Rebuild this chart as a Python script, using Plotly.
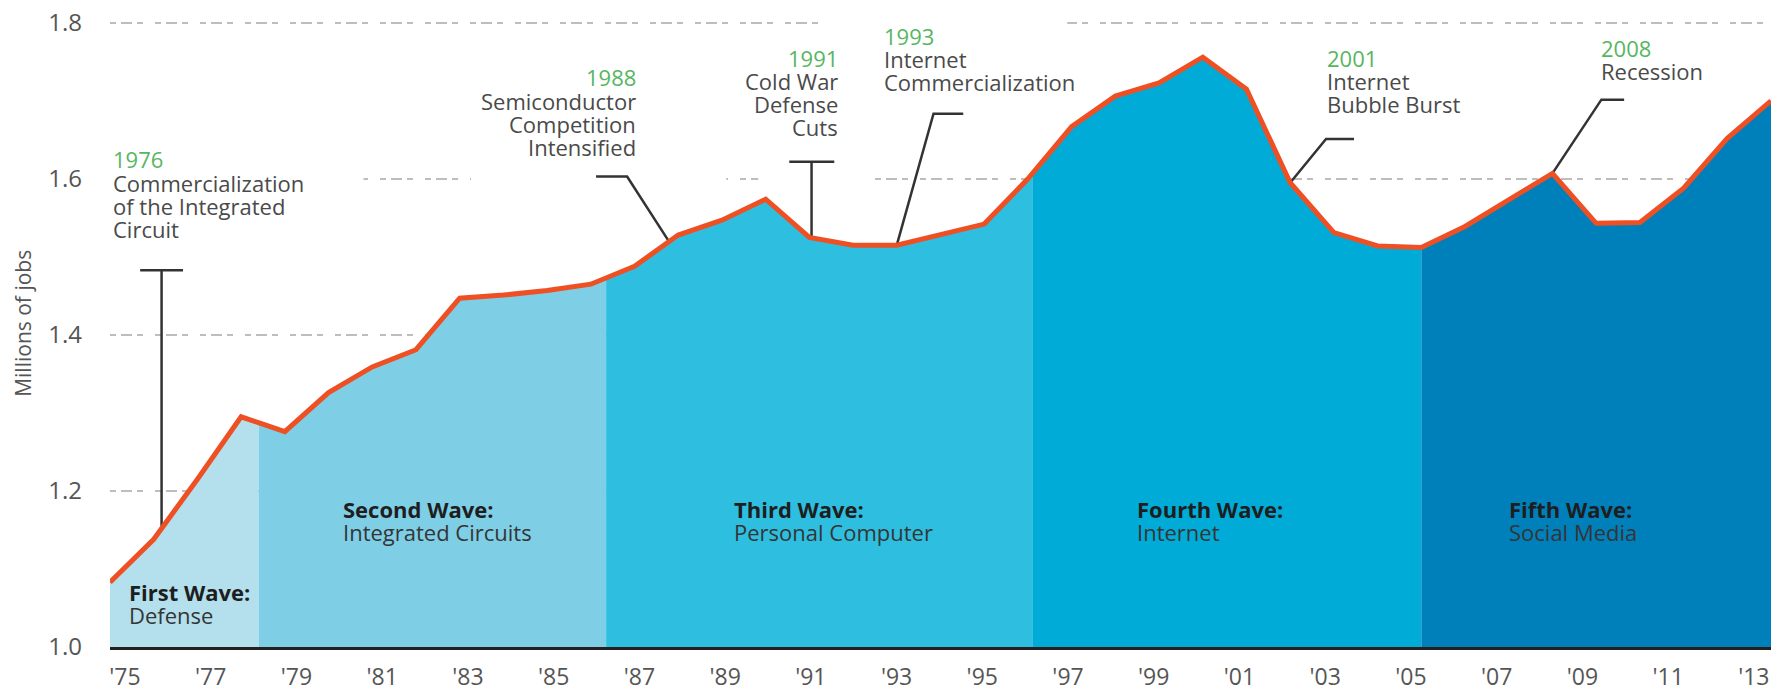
import numpy as np
import plotly.graph_objects as go

# ---- data -------------------------------------------------------------
years = list(range(1975, 2014))
jobs = [1.083, 1.138, 1.215, 1.295, 1.276, 1.326, 1.359, 1.381, 1.447, 1.451,
        1.457, 1.465, 1.488, 1.528, 1.547, 1.574, 1.525, 1.515, 1.515, 1.529,
        1.542, 1.600, 1.667, 1.706, 1.723, 1.756, 1.715, 1.595, 1.531, 1.514,
        1.512, 1.539, 1.573, 1.607, 1.543, 1.544, 1.588, 1.652, 1.700]

wave_starts = [1975, 1978.4, 1986.35, 1996.1, 2005]
wave_end = 2013
wave_names = ["First Wave:", "Second Wave:", "Third Wave:", "Fourth Wave:", "Fifth Wave:"]
wave_themes = ["Defense", "Integrated Circuits", "Personal Computer", "Internet", "Social Media"]

event_years = ["1976", "1988", "1991", "1993", "2001", "2008"]
event_texts = [
    ["Commercialization", "of the Integrated", "Circuit"],
    ["Semiconductor", "Competition", "Intensified"],
    ["Cold War", "Defense", "Cuts"],
    ["Internet", "Commercialization"],
    ["Internet", "Bubble Burst"],
    ["Recession"],
]
# where each leader line meets the curve
event_at = [1976.18, 1987.79, 1991.05, 1993.0, 2002.0, 2008.0]

tick_years = list(range(1975, 2014, 2))
tick_text = ["'" + str(y)[2:] for y in tick_years]
y_ticks = [1.0, 1.2, 1.4, 1.6, 1.8]

# ---- styling / layout -------------------------------------------------
WAVE_COLORS = ["#b3e0ec", "#7ecfe6", "#2ebfe0", "#00acd7", "#0080bb"]
LINE_COLOR = "#ee5024"
GREEN = "#56b65f"
GREY = "#4a4a4a"
FONT = "Open Sans"
FS = 22
LINE_STEP = 0.0297

wave_label_pos = [(1975.4, 1.071), (1980.28, 1.177), (1989.23, 1.177),
                  (1998.46, 1.177), (2006.96, 1.177)]
event_label_pos = [(1975.02, 1.625, "left"), (1987.07, 1.730, "right"),
                   (1991.7, 1.755, "right"), (1992.66, 1.783, "left"),
                   (2002.8, 1.755, "left"), (2009.07, 1.768, "left")]
# leader shapes: ("tee", bar_left, bar_right, top) or ("elbow", elbow_x, elbow_y, tail_x)
leaders = [("tee", 1975.69, 1976.67, 1.483), ("elbow", 1986.83, 1.603, 1986.12),
           ("tee", 1990.54, 1991.57, 1.622), ("elbow", 1993.84, 1.6835, 1994.52),
           ("elbow", 2002.82, 1.651, 2003.46), ("elbow", 2009.12, 1.7015, 2009.64)]
# white boxes that knock the dashed grid out behind the callouts
masks = [(1974.9, 1980.8, 1.56, 1.66), (1983.26, 1989.1, 1.58, 1.76),
         (1989.83, 1992.25, 1.58, 1.78), (1991.34, 1996.9, 1.77, 1.83)]

fig = go.Figure()

# wave bands under the curve
bounds = wave_starts + [wave_end]
for i, color in enumerate(WAVE_COLORS):
    x0, x1 = bounds[i], bounds[i + 1]
    xs = [x0] + [y for y in years if x0 < y < x1] + [x1]
    ys = list(np.interp(xs, years, jobs))
    fig.add_trace(go.Scatter(x=xs, y=ys, mode="none", fill="tozeroy",
                             fillcolor=color, hoverinfo="skip", showlegend=False))

# leader lines
lx, ly = [], []
for at, ld in zip(event_at, leaders):
    on_curve = float(np.interp(at, years, jobs))
    if ld[0] == "tee":
        _, left, right, top = ld
        lx += [left, right, None, at, at, None]
        ly += [top, top, None, top, on_curve, None]
    else:
        _, ex, ey, tail = ld
        lx += [tail, ex, at, None]
        ly += [ey, ey, on_curve, None]
fig.add_trace(go.Scatter(x=lx, y=ly, mode="lines", line=dict(color="#333333", width=2.5),
                         hoverinfo="skip", showlegend=False))

# employment line
fig.add_trace(go.Scatter(x=years, y=jobs, mode="lines",
                         line=dict(color=LINE_COLOR, width=5),
                         hoverinfo="skip", showlegend=False))

# carrier for the year labels (printed slightly tighter than the data grid)
fig.add_trace(go.Scatter(x=tick_years, y=[None] * len(tick_years), xaxis="x2",
                         mode="lines", hoverinfo="skip", showlegend=False))

for x0, x1, y0, y1 in masks:
    fig.add_shape(type="rect", x0=x0, x1=x1, y0=y0, y1=y1, xref="x", yref="y",
                  fillcolor="white", line_width=0, layer="between")

# wave labels
for (x, y), name, theme in zip(wave_label_pos, wave_names, wave_themes):
    fig.add_annotation(x=x, y=y, text="<b>" + name + "</b>", showarrow=False,
                       xanchor="left", yanchor="middle",
                       font=dict(family=FONT, size=FS, color="#1e1e1e"))
    fig.add_annotation(x=x, y=y - LINE_STEP, text=theme, showarrow=False,
                       xanchor="left", yanchor="middle",
                       font=dict(family=FONT, size=FS, color="#353535"))

# event callouts
for (x, y, align), yr, lines in zip(event_label_pos, event_years, event_texts):
    for k, txt in enumerate([yr] + lines):
        fig.add_annotation(x=x, y=y - k * LINE_STEP, text=txt, showarrow=False,
                           xanchor=align, yanchor="middle",
                           font=dict(family=FONT, size=FS, color=GREEN if k == 0 else GREY))

# y-axis title
fig.add_annotation(x=-0.052, xref="paper", y=1.415, yref="y", text="Millions of jobs",
                   textangle=-90, showarrow=False, xanchor="center", yanchor="middle",
                   font=dict(family=FONT, size=21, color="#555555"))

# the page body adds an 8px offset, so the figure is 8px smaller on each axis
fig.update_layout(
    width=1772, height=688,
    margin=dict(l=102, r=9, t=7, b=49),
    plot_bgcolor="white", paper_bgcolor="white",
    font=dict(family=FONT, size=FS, color=GREY),
    xaxis=dict(range=[1975, 2013], showticklabels=False, automargin=False,
               showgrid=False, zeroline=False, showline=True, linecolor="#231f20",
               linewidth=3, ticks=""),
    xaxis2=dict(overlaying="x", anchor="y", side="bottom", range=[1974.65, 2013.4],
                tickvals=tick_years, ticktext=tick_text, automargin=False,
                showgrid=False, zeroline=False, showline=False, ticks="",
                ticklabelstandoff=14, tickfont=dict(family=FONT, size=23, color="#555555")),
    yaxis=dict(range=[1.0, 1.81], tickvals=y_ticks, tickformat=".1f", automargin=False,
               showgrid=True, gridcolor="#bdbdbd", gridwidth=2, ticklabeloverflow="allow",
               griddash="6px,5px,11px,5px,6px,12px", zeroline=False, ticks="",
               ticklabelstandoff=27, tickfont=dict(family=FONT, size=24, color="#555555")),
)

fig.write_html("out.html")
